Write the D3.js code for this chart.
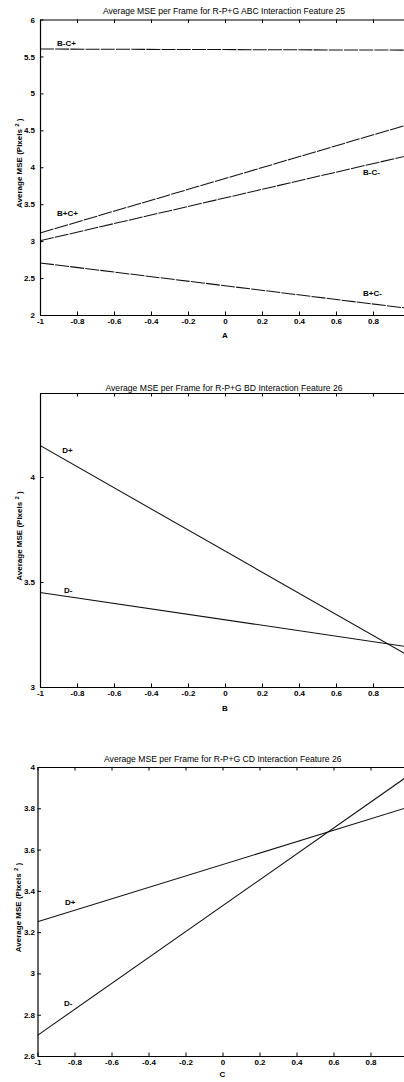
<!DOCTYPE html>
<html>
<head>
<meta charset="utf-8">
<script src="https://cdn.jsdelivr.net/npm/d3@7"></script>
<style>
  html, body { margin: 0; padding: 0; background: #fff; }
  svg { display: block; }
  text { font-family: "Liberation Sans", Arial, Helvetica, sans-serif; fill: #000; }
</style>
</head>
<body>
<script>
// ---------------- data ----------------
const titles = [
  "Average MSE per Frame for R-P+G ABC Interaction Feature 25",
  "Average MSE per Frame for R-P+G BD Interaction Feature 26",
  "Average MSE per Frame for R-P+G CD Interaction Feature 26"
];
const xAxisLabels = ["A", "B", "C"];
const yAxisLabel = "Average MSE (Pixels ";
const xEnds = [-1, 1];
const xTickValues = [-1, -0.8, -0.6, -0.4, -0.2, 0, 0.2, 0.4, 0.6, 0.8, 1];
// the label of the last tick (1) falls outside the cropped picture
const xTickLabels = ["-1", "-0.8", "-0.6", "-0.4", "-0.2", "0", "0.2", "0.4", "0.6", "0.8", ""];

// panel 1 (ABC)
const p1Domain = [2, 6];
const p1TickValues = [2, 2.5, 3, 3.5, 4, 4.5, 5, 5.5, 6];
const p1TickLabels = ["2", "2.5", "3", "3.5", "4", "4.5", "5", "5.5", "6"];
const p1Series = ["B-C+", "B+C+", "B-C-", "B+C-"];
const p1AtMinus1 = [5.60, 3.11, 3.005, 2.705];
const p1AtPlus1 = [5.585, 4.585, 4.165, 2.087];
const p1LabelX = [-0.908, -0.908, 0.746, 0.746];
const p1LabelY = [5.68, 3.385, 3.93, 2.30];

// panel 2 (BD)
const p2Domain = [3, 4.4];
const p2TickValues = [3, 3.5, 4];
const p2TickLabels = ["3", "3.5", "4"];
const p2Series = ["D+", "D-"];
const p2AtMinus1 = [4.15, 3.45];
const p2AtPlus1 = [3.145, 3.19];
const p2LabelX = [-0.88, -0.87];
const p2LabelY = [4.13, 3.463];

// panel 3 (CD)
const p3Domain = [2.6, 4];
const p3TickValues = [2.6, 2.8, 3, 3.2, 3.4, 3.6, 3.8, 4];
const p3TickLabels = ["2.6", "2.8", "3", "3.2", "3.4", "3.6", "3.8", "4"];
const p3Series = ["D+", "D-"];
const p3AtMinus1 = [3.25, 2.70];
const p3AtPlus1 = [3.804, 3.955];
const p3LabelX = [-0.851, -0.857];
const p3LabelY = [3.347, 2.854];

// ---------------- layout ----------------
const W = 404, H = 1082;
const panels = [
  { left: 40, right: 410, top: 19.5, bottom: 315, titleY: 13.5, xlabY: 337.5, dash: "14,1.2", pad: 5, ylx: 22,
    domain: p1Domain, tv: p1TickValues, tl: p1TickLabels, names: p1Series, a: p1AtMinus1, b: p1AtPlus1, lx: p1LabelX, ly: p1LabelY },
  { left: 40, right: 410, top: 393, bottom: 687, titleY: 390.5, xlabY: 710.5, dash: null, pad: 5, ylx: 22,
    domain: p2Domain, tv: p2TickValues, tl: p2TickLabels, names: p2Series, a: p2AtMinus1, b: p2AtPlus1, lx: p2LabelX, ly: p2LabelY },
  { left: 37.5, right: 407.5, top: 767, bottom: 1056, titleY: 762, xlabY: 1076.5, dash: null, pad: 2.5, ylx: 21,
    domain: p3Domain, tv: p3TickValues, tl: p3TickLabels, names: p3Series, a: p3AtMinus1, b: p3AtPlus1, lx: p3LabelX, ly: p3LabelY }
];

const svg = d3.select("body").append("svg").attr("width", W).attr("height", H);
svg.append("rect").attr("width", W).attr("height", H).attr("fill", "#fff");

panels.forEach((p, i) => {
  const x = d3.scaleLinear().domain(xEnds).range([p.left, p.right]);
  const y = d3.scaleLinear().domain(p.domain).range([p.bottom, p.top]);
  const g = svg.append("g");

  const clipId = "clip" + i;
  g.append("clipPath").attr("id", clipId).append("rect")
    .attr("x", p.left).attr("y", p.top).attr("width", p.right - p.left).attr("height", p.bottom - p.top);

  // data lines
  const line = d3.line().x(d => x(d[0])).y(d => y(d[1]));
  const lg = g.append("g").attr("clip-path", `url(#${clipId})`);
  p.names.forEach((n, k) => {
    lg.append("path")
      .attr("d", line([[xEnds[0], p.a[k]], [xEnds[1], p.b[k]]]))
      .attr("fill", "none").attr("stroke", "#111").attr("stroke-width", 1.05)
      .attr("stroke-dasharray", p.dash);
  });

  // line labels
  p.names.forEach((n, k) => {
    g.append("text").attr("x", x(p.lx[k])).attr("y", y(p.ly[k]))
      .attr("dy", "0.36em").attr("font-size", 8).attr("font-weight", "bold").text(n);
  });

  // axes (MATLAB style: inward ticks, full box)
  const fmtX = v => xTickLabels[xTickValues.indexOf(v)];
  const fmtY = v => p.tl[p.tv.indexOf(v)];

  const axB = g.append("g").attr("transform", `translate(0,${p.bottom})`)
    .call(d3.axisBottom(x).tickValues(xTickValues).tickFormat(fmtX).tickSizeInner(-3.5).tickSizeOuter(0).tickPadding(3));
  const axT = g.append("g").attr("transform", `translate(0,${p.top})`)
    .call(d3.axisTop(x).tickValues(xTickValues).tickFormat("").tickSizeInner(-3.5).tickSizeOuter(0));
  const axL = g.append("g").attr("transform", `translate(${p.left},0)`)
    .call(d3.axisLeft(y).tickValues(p.tv).tickFormat(fmtY).tickSizeInner(-3.5).tickSizeOuter(0).tickPadding(p.pad));
  const axR = g.append("g").attr("transform", `translate(${p.right},0)`)
    .call(d3.axisRight(y).tickValues(p.tv).tickFormat("").tickSizeInner(-3.5).tickSizeOuter(0));

  [axB, axT, axL, axR].forEach(a => {
    a.selectAll("path.domain").attr("stroke", "#000").attr("stroke-width", 1.2);
    a.selectAll(".tick line").attr("stroke", "#000").attr("stroke-width", 1);
    a.selectAll("text").attr("font-size", 8).attr("font-weight", "bold")
      .attr("font-family", "'Liberation Sans', Arial, sans-serif").attr("fill", "#000");
  });

  // title
  g.append("text").attr("x", (p.left + 410) / 2 - 1).attr("y", p.titleY)
    .attr("text-anchor", "middle").attr("font-size", 8.6).text(titles[i]);

  // x label
  g.append("text").attr("x", x(0)).attr("y", p.xlabY)
    .attr("text-anchor", "middle").attr("font-size", 8).attr("font-weight", "bold").text(xAxisLabels[i]);

  // y label
  const yl = g.append("text")
    .attr("transform", `translate(${p.ylx},${(p.top + p.bottom) / 2 - 4}) rotate(-90)`)
    .attr("text-anchor", "middle").attr("font-size", 8).attr("font-weight", "bold");
  yl.append("tspan").text(yAxisLabel);
  yl.append("tspan").attr("font-size", 6).attr("dy", -3.5).text("2");
  yl.append("tspan").attr("dy", 3.5).text(" )");
});
</script>
</body>
</html>
